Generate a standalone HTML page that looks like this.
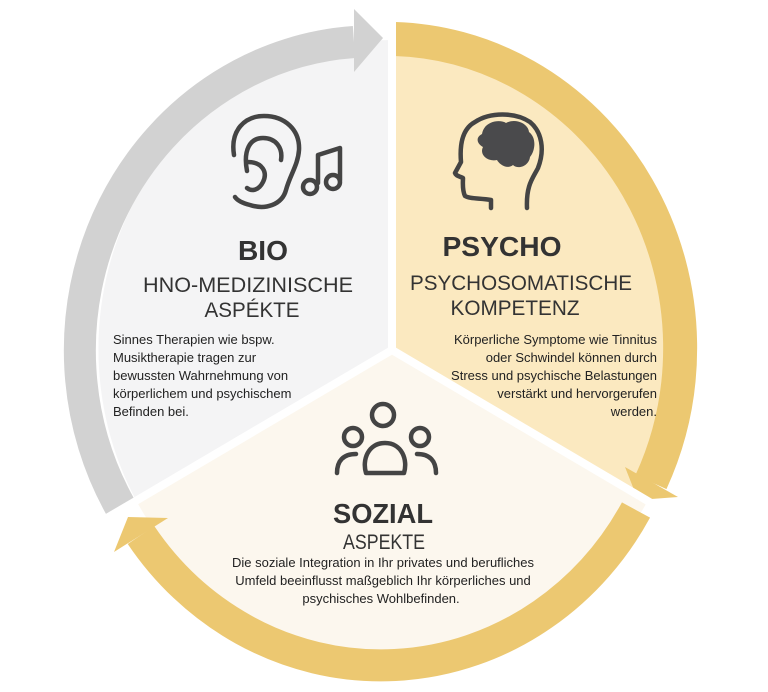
<!DOCTYPE html>
<html><head><meta charset="utf-8"><style>
html,body{margin:0;padding:0;background:#fff;width:768px;height:692px;overflow:hidden}
svg{display:block}
.t{font-family:"Liberation Sans",sans-serif;fill:#333}
.b{font-family:"Liberation Sans",sans-serif;fill:#222;font-size:13px}
</style></head><body>
<svg width="768" height="692" viewBox="0 0 768 692" xmlns="http://www.w3.org/2000/svg">
<!-- sectors -->
<path d="M392,350 L392,40 A294,309 0 0,0 137,502 Z" fill="#f4f4f5"/>
<path d="M392,350 L392,40 A294,309 0 0,1 647,502 Z" fill="#fbe9c0"/>
<path d="M392,350 L647,502 A294,309 0 0,1 137,502 Z" fill="#fcf7ee"/>
<!-- ring arcs -->
<path d="M121,508 A294,309 0 0,1 354,42" fill="none" stroke="#d2d2d2" stroke-width="32"/>
<polygon points="354,9 383,38 354,72" fill="#d2d2d2"/>
<path d="M395,39 A294,309 0 0,1 651,482" fill="none" stroke="#ecc871" stroke-width="34"/>
<polygon points="625,467 638,500 678,497" fill="#ecc871"/>
<path d="M636,510 A294,309 0 0,1 141,535" fill="none" stroke="#ecc871" stroke-width="32"/>
<polygon points="168,518 128,517 114,552" fill="#ecc871"/>
<!-- dividers -->
<line x1="392" y1="352" x2="392" y2="0" stroke="#fff" stroke-width="8"/>
<line x1="392" y1="350" x2="100" y2="522" stroke="#fff" stroke-width="8"/>
<line x1="392" y1="350" x2="680" y2="520" stroke="#fff" stroke-width="8"/>
<!-- ear icon -->
<g fill="none" stroke="#444" stroke-width="4.5" stroke-linecap="round" stroke-linejoin="round">
<path d="M234,155 C230,130 245,116 264,116 C285,116 300,130 299,150 C298,165 290,175 286,190 C282,205 265,210 250,205 C242,203 237,200 235,197"/>
<path d="M247,171 C243,150 250,138 263,138 C276,138 283,148 281,160"/>
<path d="M248,162 C262,162 268,172 263,182 C259,190 252,192 247,188"/>
<path d="M318,183 L318,155 L340,148 L340,180"/>
<circle cx="310" cy="187" r="7"/>
<circle cx="333" cy="182" r="7"/>
<!-- head -->
<path d="M491,208 L491,200 C480,198 470,199 465,196 C462,190 463,182 463,178 C459,176 456,176 455,173 L461,162 C460,150 460,130 475,122 C490,112 515,112 530,122 C542,132 545,150 538,168 C533,178 526,185 527,208"/>
<!-- people -->
<circle cx="383" cy="415" r="11"/>
<circle cx="353" cy="437" r="9"/>
<circle cx="420" cy="437" r="9"/>
<path d="M366,473 C362,460 368,443 385,443 C402,443 408,460 404,473 Z"/>
<path d="M337,473 C337,461 343,454 356,454"/>
<path d="M436,473 C436,461 430,454 417,454"/>
</g>
<path d="M482,134 C484,121 500,119 506,123 C515,118 528,123 529,132 C537,138 535,151 530,157 C529,166 518,170 513,165 C507,170 499,164 497,160 C488,162 479,155 483,147 C476,143 476,137 482,134 Z" fill="#4a4a4c"/>
<!-- BIO -->
<text class="t" x="263" y="260" font-size="28" font-weight="bold" text-anchor="middle" textLength="50" lengthAdjust="spacingAndGlyphs">BIO</text>
<text class="t" x="248" y="292" font-size="21" text-anchor="middle" textLength="210" lengthAdjust="spacingAndGlyphs">HNO-MEDIZINISCHE</text>
<text class="t" x="252" y="317" font-size="21" text-anchor="middle" textLength="95" lengthAdjust="spacingAndGlyphs">ASPÉKTE</text>
<text class="b" x="113" y="344">Sinnes Therapien wie bspw.</text>
<text class="b" x="113" y="362">Musiktherapie tragen zur</text>
<text class="b" x="113" y="380">bewussten Wahrnehmung von</text>
<text class="b" x="113" y="398">körperlichem und psychischem</text>
<text class="b" x="113" y="416">Befinden bei.</text>
<!-- PSYCHO -->
<text class="t" x="502" y="256" font-size="28" font-weight="bold" text-anchor="middle" textLength="119" lengthAdjust="spacingAndGlyphs">PSYCHO</text>
<text class="t" x="521" y="290" font-size="21" text-anchor="middle" textLength="222" lengthAdjust="spacingAndGlyphs">PSYCHOSOMATISCHE</text>
<text class="t" x="515" y="315" font-size="21" text-anchor="middle" textLength="129" lengthAdjust="spacingAndGlyphs">KOMPETENZ</text>
<text class="b" x="657" y="344" text-anchor="end">Körperliche Symptome wie Tinnitus</text>
<text class="b" x="657" y="362" text-anchor="end">oder Schwindel können durch</text>
<text class="b" x="657" y="380" text-anchor="end">Stress und psychische Belastungen</text>
<text class="b" x="657" y="398" text-anchor="end">verstärkt und hervorgerufen</text>
<text class="b" x="657" y="416" text-anchor="end">werden.</text>
<!-- SOZIAL -->
<text class="t" x="383" y="523" font-size="28" font-weight="bold" text-anchor="middle" textLength="100" lengthAdjust="spacingAndGlyphs">SOZIAL</text>
<text class="t" x="384" y="549" font-size="21" text-anchor="middle" textLength="82" lengthAdjust="spacingAndGlyphs">ASPEKTE</text>
<text class="b" x="383" y="567" text-anchor="middle">Die soziale Integration in Ihr privates und berufliches</text>
<text class="b" x="383" y="585" text-anchor="middle">Umfeld beeinflusst maßgeblich Ihr körperliches und</text>
<text class="b" x="381" y="603" text-anchor="middle">psychisches Wohlbefinden.</text>
</svg>
</body></html>
